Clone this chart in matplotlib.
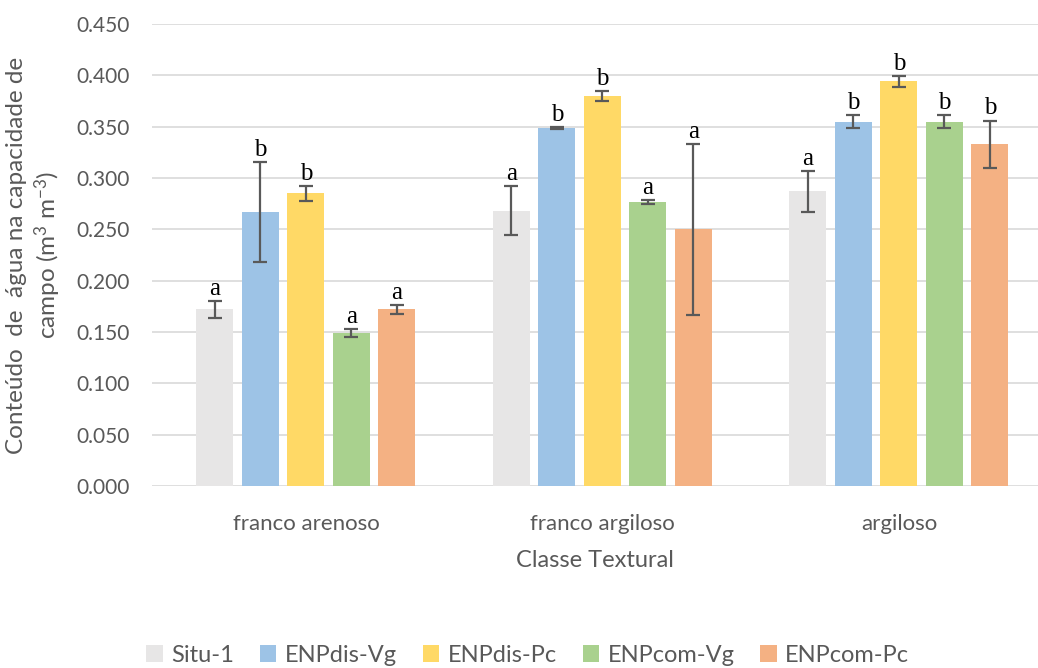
import matplotlib.pyplot as plt
import numpy as np

categories = ["franco arenoso", "franco argiloso", "argiloso"]
series = ["Situ-1", "ENPdis-Vg", "ENPdis-Pc", "ENPcom-Vg", "ENPcom-Pc"]
colors = ["#E7E6E6", "#9DC3E6", "#FFD966", "#A9D18E", "#F4B183"]

# mean values per series (one value per category)
situ = [0.172, 0.268, 0.287]
dis_vg = [0.267, 0.349, 0.355]
dis_pc = [0.285, 0.380, 0.394]
com_vg = [0.149, 0.277, 0.355]
com_pc = [0.172, 0.250, 0.333]

# standard deviations
situ_err = [0.008, 0.024, 0.020]
dis_vg_err = [0.049, 0.001, 0.006]
dis_pc_err = [0.007, 0.005, 0.005]
com_vg_err = [0.004, 0.002, 0.006]
com_pc_err = [0.004, 0.083, 0.023]

# significance letters
situ_lab = ["a", "a", "a"]
dis_vg_lab = ["b", "b", "b"]
dis_pc_lab = ["b", "b", "b"]
com_vg_lab = ["a", "a", "b"]
com_pc_lab = ["a", "a", "b"]

values = [situ, dis_vg, dis_pc, com_vg, com_pc]
errors = [situ_err, dis_vg_err, dis_pc_err, com_vg_err, com_pc_err]
letters = [situ_lab, dis_vg_lab, dis_pc_lab, com_vg_lab, com_pc_lab]

txt = "#595959"
plt.rcParams["font.family"] = ["Lato", "DejaVu Sans"]
plt.rcParams["mathtext.fontset"] = "custom"
plt.rcParams["mathtext.rm"] = "Lato"
plt.rcParams["mathtext.it"] = "Lato"

fig = plt.figure(figsize=(10.38, 6.68), dpi=100)
ax = fig.add_axes([152 / 1038, 1 - 486 / 668, 886 / 1038, 462 / 668])

x = np.arange(len(categories))
step = 0.1535
width = 0.125
for i, (name, vals, errs, labs) in enumerate(zip(series, values, errors, letters)):
    pos = x + (i - 2) * step
    ax.bar(pos, vals, width, color=colors[i], label=name, zorder=2)
    ax.errorbar(pos, vals, yerr=errs, fmt="none", ecolor="#595959",
                elinewidth=1.6, capsize=5, capthick=1.6, zorder=3)
    for p, v, e, l in zip(pos, vals, errs, labs):
        ax.text(p, v + e + 0.001, l, ha="center", va="bottom",
                family="Liberation Serif", fontsize=18, color="black", zorder=4)

ax.set_ylim(0, 0.45)
ax.set_xlim(-0.519, 2.469)
ax.set_yticks(np.arange(0, 0.451, 0.05))
ax.set_yticklabels([f"{v:.3f}" for v in np.arange(0, 0.451, 0.05)])
ax.set_xticks(x)
ax.set_xticklabels(categories)
ax.tick_params(axis="both", length=0, colors=txt)
ax.tick_params(axis="y", labelsize=15, pad=16)
ax.tick_params(axis="x", labelsize=16, pad=20)
ax.grid(axis="y", color="#D9D9D9", linewidth=1.2, zorder=0)
for s in ax.spines.values():
    s.set_visible(False)

ax.set_xlabel("Classe Textural", fontsize=17, color=txt, labelpad=12)
ax.set_ylabel("Conteúdo  de  água na capacidade de\ncampo (m$^{3}$ m$^{-3}$)",
              fontsize=17.5, color=txt, labelpad=10, linespacing=1.2)

ax.legend(loc="center", bbox_to_anchor=(0.424, -0.366),
          ncol=5, frameon=False, fontsize=17, labelcolor=txt,
          handlelength=0.7, handleheight=0.7, handletextpad=0.35, columnspacing=1.1)

fig.savefig("out.png", dpi=100)
